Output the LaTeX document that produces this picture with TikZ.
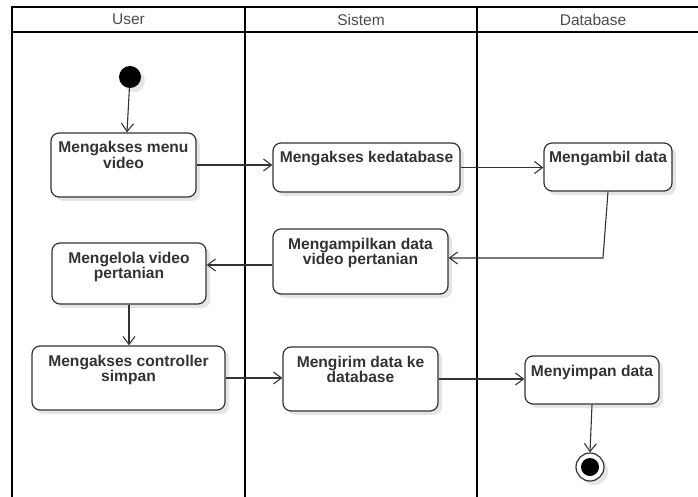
\documentclass[tikz,border=0pt]{standalone}
\usepackage{fontspec}
\setmainfont{Liberation Sans}
\usetikzlibrary{arrows.meta,shadows,calc}
\definecolor{ink}{HTML}{333333}
% activity label: fixed-size box, text hanging from the top edge
\newcommand\acttext[3]{\parbox[c][#2][t]{#1}{\centering\fontsize{15.6pt}{15.5pt}\selectfont\bfseries\rule{0pt}{20pt}#3\par}}
\begin{document}
\begin{tikzpicture}[x=1pt,y=-1pt,
  softshadow/.style={drop shadow={shadow xshift=4pt,shadow yshift=-4pt,fill=black!10,opacity=1}},
  act/.style={draw=ink,line width=1.2pt,rounded corners=8pt,fill=white,inner sep=0pt,text=ink,softshadow},
  flow/.style={draw=ink,line width=1.1pt,-{Straight Barb[length=8pt,width=12pt,line width=1.1pt]}},
  lane/.style={line width=2pt,draw=black},
  lanetitle/.style={font=\fontsize{15.5pt}{15.5pt}\selectfont,text=black!70}]
\useasboundingbox (0,0) rectangle (698,497);

% swimlanes
\draw[lane] (12,497) -- (12,7) -- (712,7);
\draw[lane] (12,32) -- (712,32);
\draw[lane] (245,7) -- (245,497);
\draw[lane] (477,7) -- (477,497);
\node[lanetitle] (tuser) at (128.5,19.5) {User};
\node[lanetitle] (tsistem) at (361,19.5) {Sistem};
\node[lanetitle] (tdb) at (593,19.5) {Database};

% start / end
\node[circle,fill=black,minimum size=22pt,inner sep=0pt,softshadow] (start) at (130,77) {};
\node[circle,draw=ink,fill=white,line width=1.2pt,minimum size=28pt,inner sep=0pt,softshadow] (stop) at (590,467) {};
\node[circle,fill=black,minimum size=18pt,inner sep=0pt] (stopdot) at (stop) {};

% activities
\node[act] (A) at (123.5,165) {\acttext{145pt}{64pt}{Mengakses menu\\video}};
\node[act] (B) at (366.5,167.5) {\acttext{187pt}{49pt}{Mengakses kedatabase}};
\node[act] (C) at (608,167) {\acttext{128pt}{48pt}{Mengambil data}};
\node[act] (D) at (360.5,261.5) {\acttext{175pt}{65pt}{Mengampilkan data\\video pertanian}};
\node[act] (E) at (129,273.5) {\acttext{154pt}{61pt}{Mengelola video\\pertanian}};
\node[act] (F) at (128.5,378) {\acttext{193pt}{64pt}{Mengakses controller\\simpan}};
\node[act] (G) at (360.5,379) {\acttext{155pt}{64pt}{Mengirim data ke\\database}};
\node[act] (H) at (592,380) {\acttext{134pt}{48pt}{Menyimpan data}};

% control flow
\coordinate (dE) at ([yshift=3.5pt]D.east);
\coordinate (dW) at ([yshift=-3.5pt]D.west);
\draw[flow] (start) -- ([xshift=3.5pt]A.north);
\draw[flow] (A.east) -- (A.east -| B.west);
\draw[flow] (B.east) -- (B.east -| C.west);
\draw[flow] (C.south) -- ([xshift=-5pt]C.south |- dE) -- (dE);
\draw[flow] (dW) -- (dW -| E.east);
\draw[flow] (E.south) -- (E.south |- F.north);
\draw[flow] (F.east) -- (F.east -| G.west);
\draw[flow] (G.east) -- (G.east -| H.west);
\draw[flow] (H.south) -- (stop.north);
\end{tikzpicture}
\end{document}
